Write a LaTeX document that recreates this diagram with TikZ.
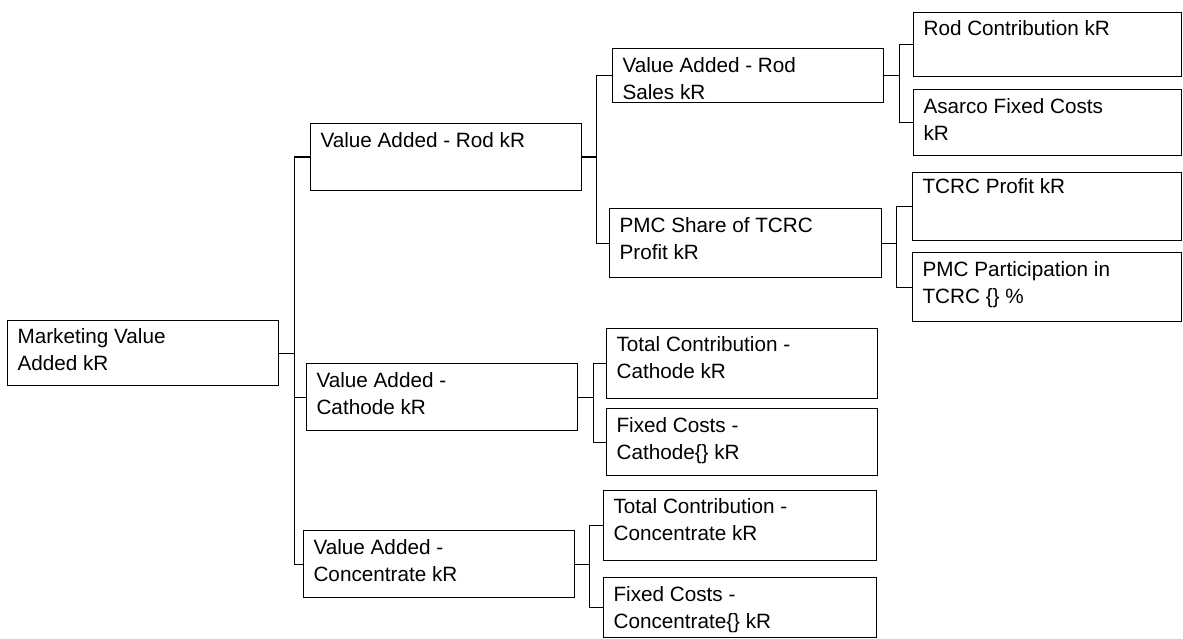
\documentclass[tikz,border=0pt]{standalone}
\usepackage{fontspec}
\setmainfont{Liberation Sans}
\begin{document}
\begin{tikzpicture}[x=1pt,y=-1pt,line width=1.1pt,
    box/.style={draw, anchor=north west, inner sep=0pt, minimum width=271pt, minimum height=67pt},
    boxtext/.style={anchor=north west, align=left, inner sep=0pt, font=\fontsize{20.7}{26.5}\selectfont}]
    \useasboundingbox[fill=white] (0,0) rectangle (1183,639);
    % Root
    \node[box, minimum height=65pt] (mva) at (7,320) {};
    \node[boxtext] (mvatext) at ([shift={(10,8)}]mva.north west) {Marketing Value\\Added kR};
    % First level
    \node[box] (rod) at (310,123) {};
    \node[boxtext] (rodtext) at ([shift={(10,9)}]rod.north west) {Value Added - Rod kR};
    \node[box] (cath) at (306,363) {};
    \node[boxtext] (cathtext) at ([shift={(10,9)}]cath.north west) {Value Added -\\Cathode kR};
    \node[box] (conc) at (303,530) {};
    \node[boxtext] (conctext) at ([shift={(10,9)}]conc.north west) {Value Added -\\Concentrate kR};
    % Second level
    \node[box, minimum height=54pt] (rodsales) at (612,48) {};
    \node[boxtext] (rodsalestext) at ([shift={(10,9)}]rodsales.north west) {Value Added - Rod\\Sales kR};
    \node[box, minimum width=272pt, minimum height=69pt] (pmcshare) at (609,208) {};
    \node[boxtext] (pmcsharetext) at ([shift={(10,9)}]pmcshare.north west) {PMC Share of TCRC\\Profit kR};
    \node[box, minimum height=70pt] (totcath) at (606,328) {};
    \node[boxtext] (totcathtext) at ([shift={(10,8)}]totcath.north west) {Total Contribution -\\Cathode kR};
    \node[box] (fixcath) at (606,408) {};
    \node[boxtext] (fixcathtext) at ([shift={(10,9)}]fixcath.north west) {Fixed Costs -\\Cathode\{\} kR};
    \node[box, minimum width=273pt, minimum height=70pt] (totconc) at (603,490) {};
    \node[boxtext] (totconctext) at ([shift={(10,8)}]totconc.north west) {Total Contribution -\\Concentrate kR};
    \node[box, minimum width=273pt, minimum height=60pt] (fixconc) at (603,577) {};
    \node[boxtext] (fixconctext) at ([shift={(10,9)}]fixconc.north west) {Fixed Costs -\\Concentrate\{\} kR};
    % Third level
    \node[box, minimum width=268pt, minimum height=64pt] (rodcontr) at (913,12) {};
    \node[boxtext] (rodcontrtext) at ([shift={(10,8)}]rodcontr.north west) {Rod Contribution kR};
    \node[box, minimum width=268pt, minimum height=66pt] (asarco) at (913,89) {};
    \node[boxtext] (asarcotext) at ([shift={(10,9)}]asarco.north west) {Asarco Fixed Costs\\kR};
    \node[box, minimum width=269pt, minimum height=68pt] (tcrc) at (912,172) {};
    \node[boxtext] (tcrctext) at ([shift={(10,6)}]tcrc.north west) {TCRC Profit kR};
    \node[box, minimum width=269pt, minimum height=69pt] (pmcpart) at (912,252) {};
    \node[boxtext] (pmcparttext) at ([shift={(10,9)}]pmcpart.north west) {PMC Participation in\\TCRC \{\} \%};
    % Connectors
    \draw (mva.east) -- ++(15,0) |- (rod.west);
    \draw (mva.east) -- ++(15,0) |- (cath.west);
    \draw (mva.east) -- ++(15,0) |- (conc.west);
    \draw (rod.east) -- ++(14,0) |- (rodsales.west);
    \draw (rod.east) -- ++(14,0) |- (pmcshare.west);
    \draw (cath.east) -- ++(15,0) |- (totcath.west);
    \draw (cath.east) -- ++(15,0) |- (fixcath.west);
    \draw (conc.east) -- ++(14,0) |- (totconc.west);
    \draw (conc.east) -- ++(14,0) |- (fixconc.west);
    \draw (rodsales.east) -- ++(15,0) |- (rodcontr.west);
    \draw (rodsales.east) -- ++(15,0) |- (asarco.west);
    \draw (pmcshare.east) -- ++(14,0) |- (tcrc.west);
    \draw (pmcshare.east) -- ++(14,0) |- (pmcpart.west);
\end{tikzpicture}
\end{document}
